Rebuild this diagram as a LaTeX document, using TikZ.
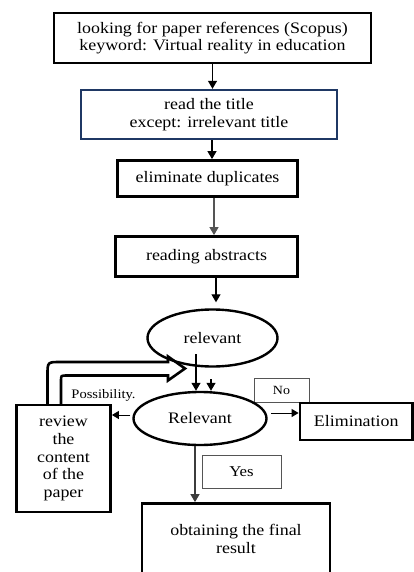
\documentclass[tikz,border=0pt]{standalone}
\usepackage{fontspec}
\setmainfont{Liberation Serif}[FakeStretch=1.12]
\usetikzlibrary{shapes.geometric,arrows.meta,calc}
\definecolor{navy}{HTML}{1F3864}
\definecolor{thingray}{HTML}{555555}
\tikzset{
  box/.style={draw, rectangle, line width=2.8pt, inner sep=0pt, align=center,
    font=\fontsize{16}{17.5}\selectfont},
  navybox/.style={box, draw=navy, line width=2.4pt},
  oval/.style={draw, ellipse, line width=2.4pt, inner sep=0pt,
    font=\fontsize{16}{17.5}\selectfont},
  tag/.style={draw=thingray, line width=1pt, rectangle, inner sep=0pt},
  arr/.style={line width=1.2pt, -{Triangle[length=8pt,width=9pt]}},
  arrsmall/.style={line width=1pt, -{Triangle[length=7pt,width=8pt]}},
  hollow/.style={line width=2.6pt, line join=miter},
}
\begin{document}
\begin{tikzpicture}[x=1pt,y=-1pt]
\clip (0,0) rectangle (414,572);
\fill[white] (0,0) rectangle (414,572);

\node[box, minimum width=317pt, minimum height=50pt] (search) at (212.5,38)
  {looking for paper references (Scopus)\\keyword: Virtual reality in education};
\node[navybox, minimum width=256pt, minimum height=49pt] (title) at (209,114.5)
  {read the title\\except: irrelevant title};
\node[box, minimum width=180pt, minimum height=36pt] (dup) at (207.5,178.5)
  {eliminate duplicates};
\node[box, minimum width=182pt, minimum height=40pt] (abs) at (206.5,256.5)
  {reading abstracts};
\node[tag, minimum width=55pt, minimum height=24pt, font=\fontsize{12.5}{14}\selectfont] (no) at (281.5,390) {No};
\node[oval, minimum width=130pt, minimum height=57pt] (rel1) at (212.5,338) {relevant};
\node[oval, minimum width=133pt, minimum height=53pt] (rel2) at (200,418.5) {Relevant};
\node[box, minimum width=94pt, minimum height=107pt, font=\fontsize{16}{17.75}\selectfont] (review) at (63.5,458.5)
  {review\\the\\content\\of the\\paper};
\node[box, minimum width=112.5pt, minimum height=37pt] (elim) at (356.25,421.5) {Elimination};
\node[tag, minimum width=79pt, minimum height=33pt, font=\fontsize{15}{16}\selectfont] (yes) at (241.5,471.5) {Yes};
\node[box, minimum width=188pt, minimum height=71pt] (final) at (236,539)
  {obtaining the final\\result};
\node[font=\fontsize{13}{14}\selectfont, inner sep=0pt] (poss) at (103.5,395) {Possibility.};

% main flow
\draw[arr] (search.south) -- (search.south |- title.north);
\draw[arr] ($(title.south)+(3,0)$) coordinate (t1) -- (t1 |- dup.north);
\draw[arr, draw=thingray] ($(dup.south)+(6.5,0)$) coordinate (d1) -- (d1 |- abs.north);
\draw[arr] ($(abs.south)+(9.5,0)$) coordinate (a1) -- (a1 |- {$(rel1.north)+(0,-6)$});
\draw[arr] ($(rel1.south)+(-16.5,-13.5)$) coordinate (r1) -- (r1 |- rel2.north);
\draw[arr] ($(rel1.south)+(-1.5,11.5)$) coordinate (r2) -- (r2 |- rel2.north);
\draw[arrsmall] ($(rel2.west)+(-2,-3.5)$) coordinate (w1) -- (w1 -| review.east);
\draw[arrsmall] ($(rel2.east)+(3.5,-5.5)$) coordinate (e1) -- (e1 -| elim.west);
\draw[arr, draw=thingray!70!black] ($(rel2.south)+(-5,0)$) coordinate (s1) -- (s1 |- final.north);

% hollow block arrow from review back to relevant
\draw[hollow] (47.5,404) -- (47.5,375) .. controls (47.5,362) .. (60.5,362)
  -- (168,362) -- (168,356.5) -- (185,368.5) -- (168,380.5) -- (168,375.5)
  -- (66.5,375.5) .. controls (61,375.5) .. (61,381) -- (61,404);
\end{tikzpicture}
\end{document}
